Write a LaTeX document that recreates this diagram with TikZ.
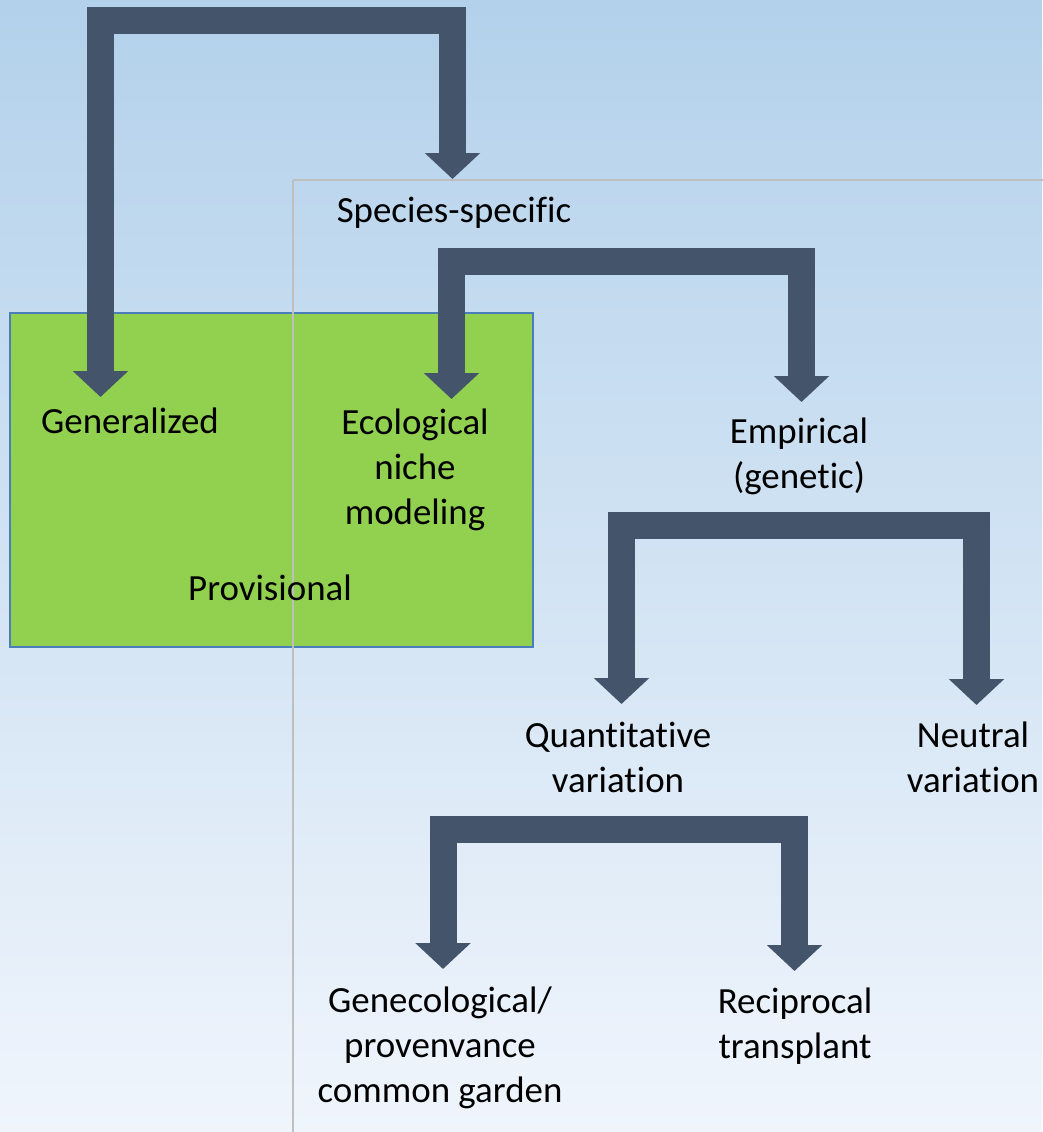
\documentclass[tikz,border=0pt]{standalone}
\usepackage{fontspec}
\setmainfont{Carlito}[Ligatures={NoCommon}]
\usetikzlibrary{arrows.meta}
\definecolor{forkblue}{HTML}{44546A}
\definecolor{provgreen}{HTML}{92D050}
\definecolor{provedge}{HTML}{4A7EBB}
\definecolor{skytop}{HTML}{B3D1EB}
\definecolor{skybottom}{HTML}{F0F5FC}
\def\ForkColor{forkblue}
\def\ProvColor{provgreen}

\begin{document}
\begin{tikzpicture}[x={(0.02cm,0)}, y={(0,-0.02cm)},
    T/.style = {font=\fontsize{21}{25.6}\selectfont, align=center, inner sep=0pt},
  fork/.style = {draw=\ForkColor, line width=0.54cm, line join=miter,
                 {Triangle[width=1.08cm,length=0.52cm]}-{Triangle[width=1.08cm,length=0.52cm]}},
  prov/.style = {draw=provedge, fill=\ProvColor, line width=1.2pt},
  spec/.style = {draw=black!25, line width=1.1pt}
                        ]
\useasboundingbox (0,0) rectangle (1042,1132);
\shade[top color=skytop, bottom color=skybottom] (0,0) rectangle (1042,1132);

% boxes
\draw[prov] (10,313) rectangle (533,647);
\draw[spec] (293,180) -- (1060,180) (293,180) -- (293,1150);

% labels
\node[T, anchor=base] (specific) at (454,222) {Species-specific};
\node[T, anchor=base] (general)  at (130,433) {Generalized};
\node[T, anchor=base] (prov)     at (270,600) {Provisional};
\node[T] (niche)   at (415,470) {Ecological\\niche\\modeling};
\node[T] (empir)   at (799,456) {Empirical\\(genetic)};
\node[T] (quant)   at (618,757) {Quantitative\\variation};
\node[T] (neutral) at (973,757) {Neutral\\variation};
\node[T] (garden)  at (440,1048) {Genecological/\\provenvance\\common garden};
\node[T] (recip)   at (795,1026) {Reciprocal\\transplant};

% arrow tips and bars
\coordinate (generalTip) at (100.5,397);
\coordinate (specificTip) at (452.5,179);
\coordinate (bar1) at (276,20.5);
\coordinate (nicheTip) at (451.5,399);
\coordinate (empirTip) at (801.5,402);
\coordinate (bar2) at (626,261.5);
\coordinate (quantTip) at (621.5,704);
\coordinate (neutralTip) at (976.5,705);
\coordinate (bar3) at (800,525.5);
\coordinate (gardenTip) at (443,969);
\coordinate (recipTip) at (794.5,971);
\coordinate (bar4) at (620,829.5);

\draw[fork] (generalTip) |- (bar1) -| (specificTip);
\draw[fork] (nicheTip)   |- (bar2) -| (empirTip);
\draw[fork] (quantTip)   |- (bar3) -| (neutralTip);
\draw[fork] (gardenTip)  |- (bar4) -| (recipTip);
\end{tikzpicture}
\end{document}
